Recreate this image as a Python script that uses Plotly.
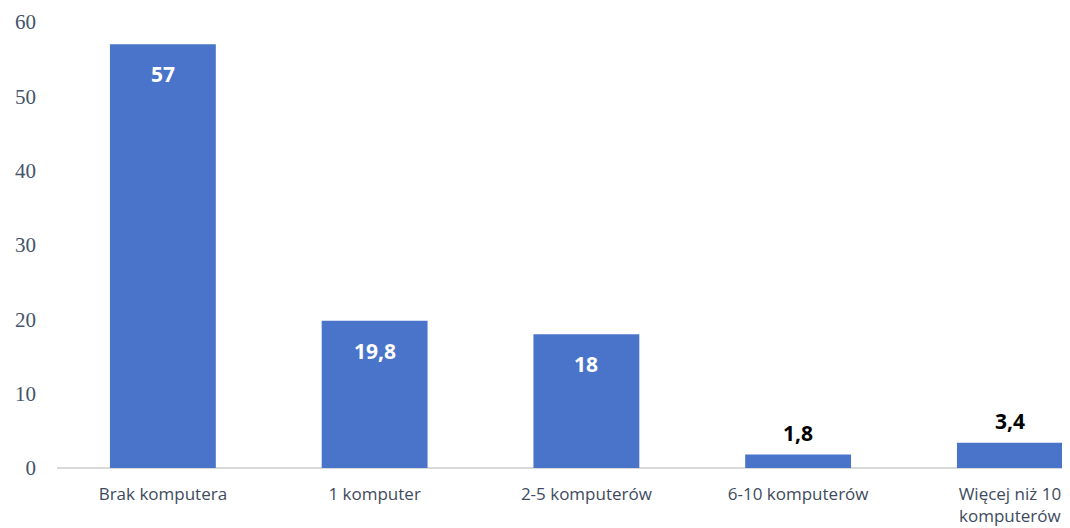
import plotly.graph_objects as go

categories = ["Brak komputera", "1 komputer", "2-5 komputerów", "6-10 komputerów", "Więcej niż 10<br>komputerów"]
values = [57, 19.8, 18, 1.8, 3.4]
y_ticks = [0, 10, 20, 30, 40, 50, 60]

labels = [("%g" % v).replace(".", ",") for v in values]

fig = go.Figure()
fig.add_trace(go.Bar(
    x=list(range(len(categories))),
    y=values,
    width=0.5,
    marker=dict(color="#4a74c9", line=dict(width=0)),
    hoverinfo="skip",
))

for i, (v, t) in enumerate(zip(values, labels)):
    inside = v > 10
    fig.add_annotation(
        x=i, y=v, text="<b>%s</b>" % t, showarrow=False,
        yanchor="middle", yshift=-30 if inside else 22,
        font=dict(family="Open Sans", size=21, color="white" if inside else "black"),
    )

fig.update_layout(
    width=1062, height=520,
    margin=dict(l=49, r=0, t=14, b=60, autoexpand=False),
    paper_bgcolor="white", plot_bgcolor="white",
    showlegend=False,
    xaxis=dict(
        range=[-0.5, -0.5 + 1013 / 211.75], automargin=False,
        tickmode="array", tickvals=list(range(len(categories))), ticktext=categories,
        showgrid=False, zeroline=False, showline=False,
        ticks="", ticklabelstandoff=14,
        tickfont=dict(family="Open Sans", size=17, color="#3e4b5e", weight=500),
    ),
    yaxis=dict(
        range=[0, 60], tickvals=y_ticks, automargin=False,
        showgrid=False, zeroline=True, zerolinecolor="#d9d9d9", zerolinewidth=1.5,
        showline=False, ticks="", ticklabelstandoff=20,
        tickfont=dict(family="Liberation Serif", size=21, color="#44546a"),
    ),
)

fig.write_html("out.html")
